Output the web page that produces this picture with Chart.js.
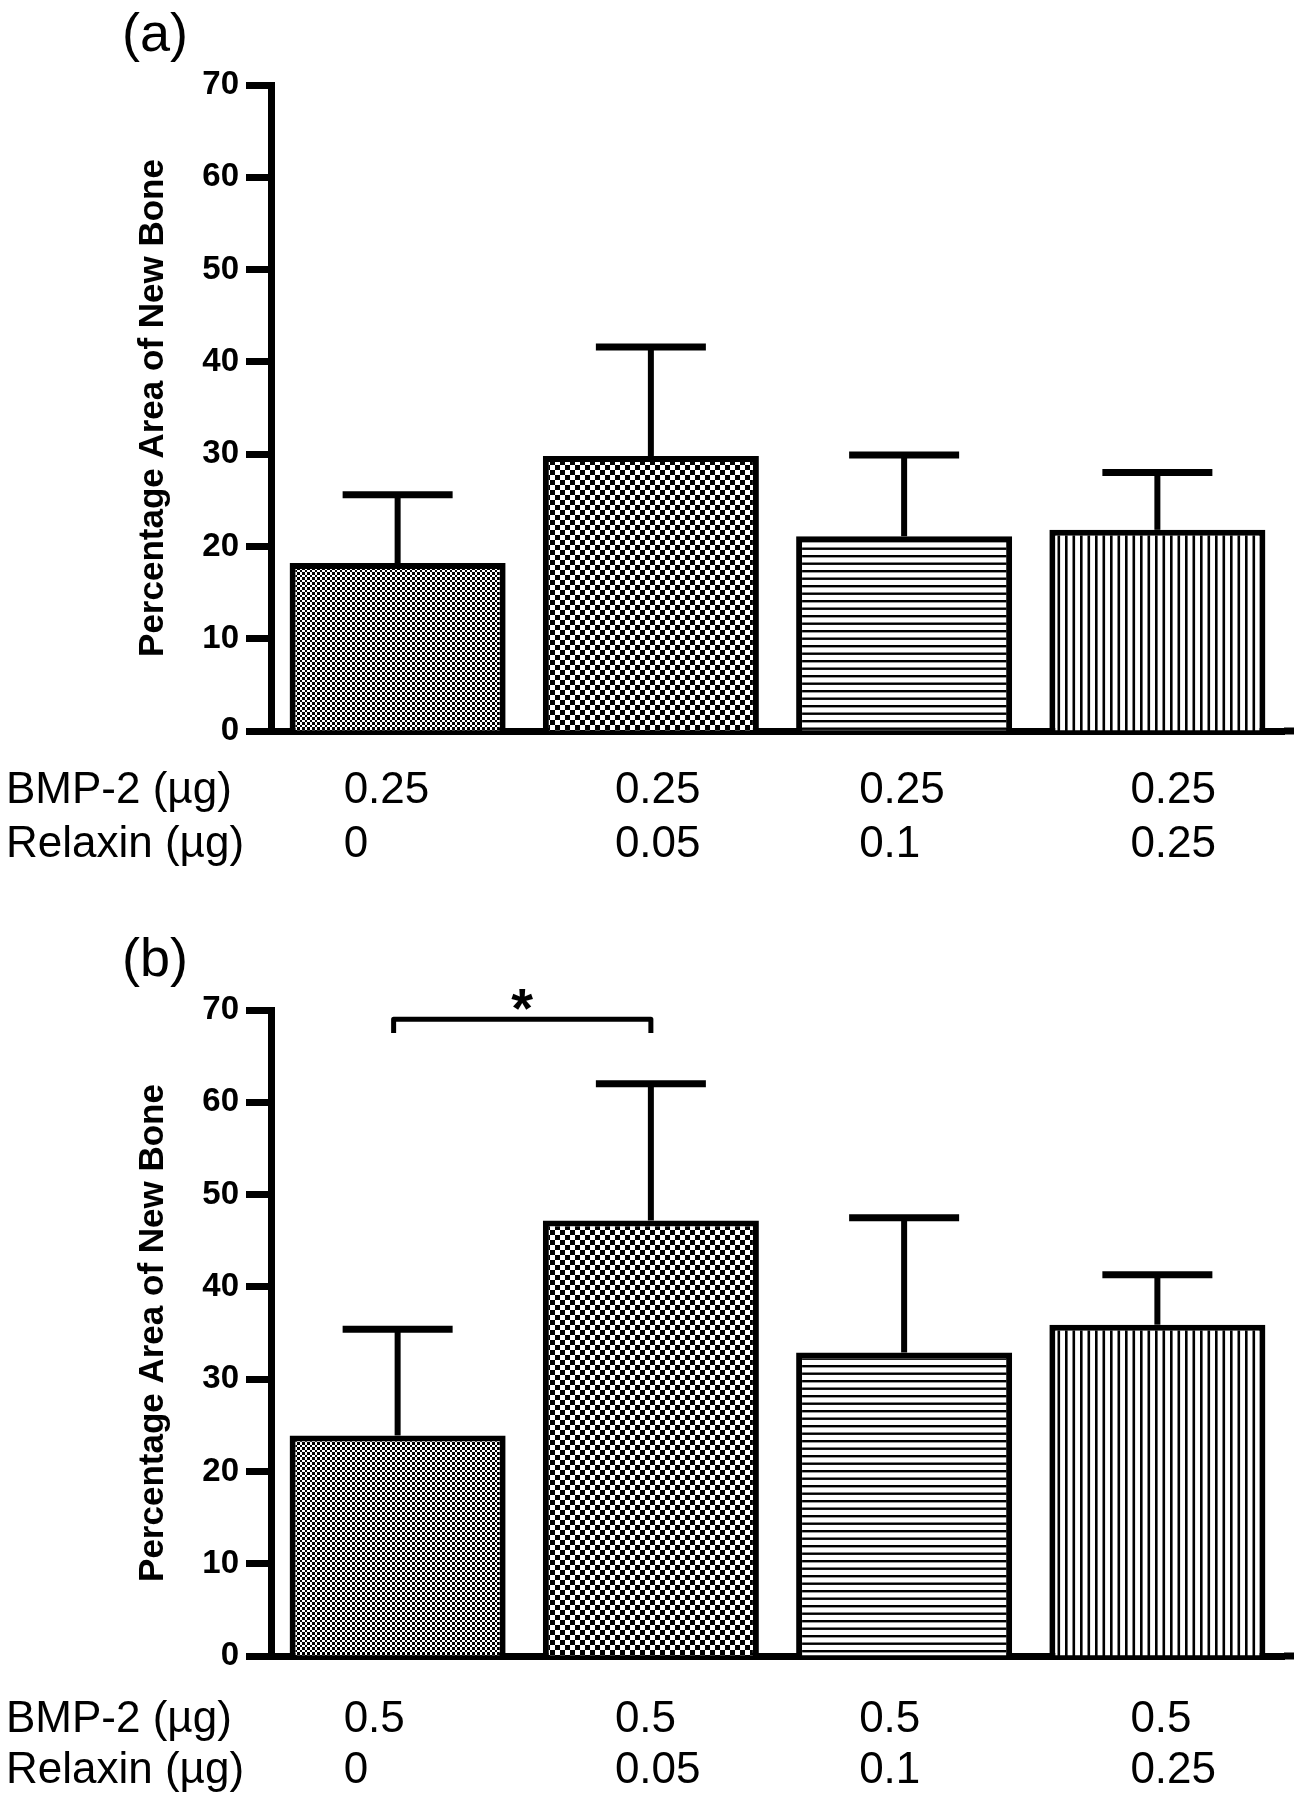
<!DOCTYPE html>
<html>
<head>
<meta charset="utf-8">
<script src="https://cdn.jsdelivr.net/npm/chart.js@4.4.0/dist/chart.umd.min.js"></script>
<style>
  html, body { margin: 0; padding: 0; background: #fff; }
  canvas { display: block; }
</style>
</head>
<body>
<canvas id="chartA" width="1296" height="900"></canvas>
<canvas id="chartB" width="1296" height="900"></canvas>
<script>
// --- dados ---
const relaxinDose = ['0', '0.05', '0.1', '0.25'];
const bmpDoseA = ['0.25', '0.25', '0.25', '0.25'];
const bmpDoseB = ['0.5', '0.5', '0.5', '0.5'];
const meanA = [18.2, 29.8, 21.1, 21.8];
const errA = [7.4, 11.8, 8.8, 6.2];
const meanB = [23.9, 47.2, 32.9, 35.9];
const errB = [11.5, 14.8, 14.6, 5.4];
const yTicks = [0, 10, 20, 30, 40, 50, 60, 70];
const sigPair = [0, 1];       // barras comparadas no painel (b)
const sigLevel = [69, 67.5];  // altura do colchete e das pontas

const FONT = "'Liberation Sans', Arial, Helvetica, sans-serif";
const labelShift = [-54, -36, -45, -27]; // deslocamento das colunas de texto

// --- padrões de preenchimento ---
function makePattern(kind) {
    const c = document.createElement('canvas');
    const size = kind === 'fine' ? 5 : (kind === 'coarse' ? 10 : 15);
    c.width = size; c.height = size;
    const g = c.getContext('2d');
    g.fillStyle = '#fff';
    g.fillRect(0, 0, size, size);
    g.fillStyle = '#000';
    if (kind === 'fine') {
        // xadrez miúdo com células de 2 e 3 px
        g.fillRect(0, 0, 2, 2);
        g.fillRect(2, 2, 3, 3);
    } else if (kind === 'coarse') {
        g.fillRect(0, 0, 5, 5);
        g.fillRect(5, 5, 5, 5);
    } else if (kind === 'hlines') {
        g.fillRect(0, 0, size, 2.4);
        g.fillRect(0, 7.5, size, 2.4);
    } else {
        g.fillRect(0, 0, 2.6, size);
        g.fillRect(7.5, 0, 2.6, size);
    }
    return g.createPattern(c, 'repeat');
}

// --- desenhos extras: barras de erro, textos, colchete ---
const panelDecor = {
    id: 'panelDecor',
    afterDatasetsDraw(chart, args, o) {
        const ctx = chart.ctx;
        const y = chart.scales.y;
        const meta = chart.getDatasetMeta(0);
        ctx.save();
        ctx.strokeStyle = '#000';
        meta.data.forEach((bar, i) => {
            const top = y.getPixelForValue(o.mean[i] + o.err[i]);
            ctx.lineWidth = 6;
            ctx.beginPath();
            ctx.moveTo(bar.x, bar.y);
            ctx.lineTo(bar.x, top);
            ctx.stroke();
            ctx.lineWidth = 7;
            ctx.beginPath();
            ctx.moveTo(bar.x - 55, top);
            ctx.lineTo(bar.x + 55, top);
            ctx.stroke();
        });
        ctx.restore();
    },
    afterDraw(chart, args, o) {
        const ctx = chart.ctx;
        const area = chart.chartArea;
        const x = chart.scales.x;
        const y = chart.scales.y;
        ctx.save();
        ctx.fillStyle = '#000';
        ctx.strokeStyle = '#000';

        // prolonga o eixo x um pouco à direita
        ctx.fillRect(area.right, area.bottom - 3.5, 1294 - area.right, 7);

        // letra do painel
        ctx.font = '54px ' + FONT;
        ctx.textAlign = 'left';
        ctx.textBaseline = 'alphabetic';
        ctx.fillText(o.panel, 122, area.top - 34);

        // título do eixo y
        ctx.save();
        ctx.translate(153, (area.top + area.bottom) / 2);
        ctx.rotate(-Math.PI / 2);
        ctx.font = 'bold 35px ' + FONT;
        ctx.textAlign = 'center';
        ctx.textBaseline = 'middle';
        ctx.fillText('Percentage Area of New Bone', 0, 0);
        ctx.restore();

        // tabela de doses
        ctx.font = '44px ' + FONT;
        ctx.textAlign = 'left';
        const r1 = area.bottom + o.rows[0];
        const r2 = area.bottom + o.rows[1];
        ctx.fillText('BMP-2 (µg)', 6, r1);
        ctx.fillText('Relaxin (µg)', 6, r2);
        o.bmp.forEach((v, i) => {
            const px = x.getPixelForValue(i) + labelShift[i];
            ctx.fillText(v, px, r1);
            ctx.fillText(relaxinDose[i], px, r2);
        });

        // colchete de significância
        if (o.sig) {
            const xa = x.getPixelForValue(sigPair[0]) - 4;
            const xb = x.getPixelForValue(sigPair[1]);
            const yl = y.getPixelForValue(sigLevel[0]);
            const ye = y.getPixelForValue(sigLevel[1]);
            ctx.lineWidth = 5;
            ctx.lineJoin = 'round';
            ctx.beginPath();
            ctx.moveTo(xa, ye);
            ctx.lineTo(xa, yl);
            ctx.lineTo(xb, yl);
            ctx.lineTo(xb, ye);
            ctx.stroke();
            ctx.font = 'bold 56px ' + FONT;
            ctx.textAlign = 'center';
            ctx.fillText('*', (xa + xb) / 2, yl + 8);
        }
        ctx.restore();
    }
};

function buildChart(id, bmpDose, mean, err, layout) {
    const canvas = document.getElementById(id);
    const ctx = canvas.getContext('2d');
    const fills = [makePattern('fine'), makePattern('coarse'), makePattern('hlines'), makePattern('vlines')];
    return new Chart(ctx, {
        type: 'bar',
        data: {
            labels: relaxinDose,
            datasets: [{
                data: mean,
                backgroundColor: fills,
                borderColor: '#000',
                borderWidth: 6,
                borderSkipped: 'start',
                barPercentage: 0.853,
                categoryPercentage: 1
            }]
        },
        options: {
            responsive: false,
            animation: false,
            events: [],
            layout: { padding: { top: layout.top, left: 0, right: 12, bottom: 0 } },
            scales: {
                x: {
                    grid: { display: false },
                    ticks: { display: false },
                    border: { display: true, color: '#000', width: 7 },
                    afterFit: (scale) => { scale.height = layout.xHeight; }
                },
                y: {
                    min: yTicks[0],
                    max: yTicks[yTicks.length - 1],
                    ticks: {
                        stepSize: yTicks[1] - yTicks[0],
                        color: '#000',
                        padding: 7,
                        font: { family: FONT, size: 33, weight: 'bold' }
                    },
                    grid: {
                        drawOnChartArea: false,
                        drawTicks: true,
                        tickLength: 25,
                        tickWidth: 7,
                        tickColor: '#000'
                    },
                    border: { display: true, color: '#000', width: 7 },
                    afterFit: (scale) => { scale.width = 271; }
                }
            },
            plugins: {
                legend: { display: false },
                tooltip: { enabled: false },
                panelDecor: {
                    panel: layout.panel,
                    mean: mean,
                    err: err,
                    bmp: bmpDose,
                    rows: layout.rows,
                    sig: layout.sig
                }
            }
        },
        plugins: [panelDecor]
    });
}

buildChart('chartA', bmpDoseA, meanA, errA, { top: 85, xHeight: 169, panel: '(a)', rows: [72, 126], sig: false });
buildChart('chartB', bmpDoseB, meanB, errB, { top: 110, xHeight: 144, panel: '(b)', rows: [76, 127], sig: true });
</script>
</body>
</html>
